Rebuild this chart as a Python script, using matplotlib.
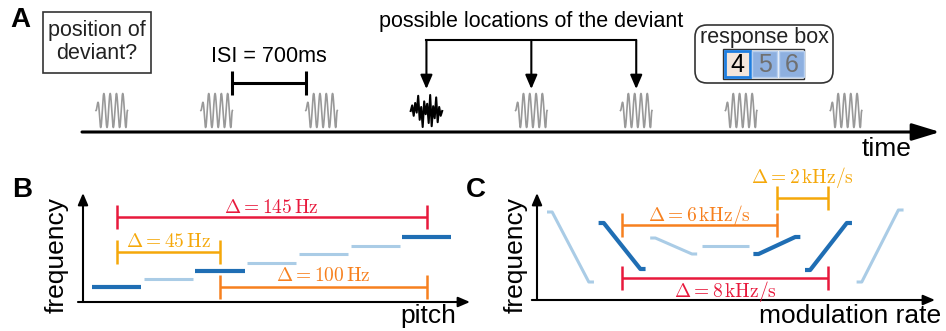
import numpy as np
import matplotlib.pyplot as plt
from matplotlib.patches import Rectangle, FancyBboxPatch

plt.rcParams['font.family'] = ['Liberation Sans', 'DejaVu Sans']
plt.rcParams['mathtext.fontset'] = 'cm'

W, H = 946, 331

# ---- panel A: oddball sequence (times in ms) ----
tone_onsets = [0, 1000, 2000, 3000, 4000, 5000, 6000, 7000]
tone_dur = 300
isi = 700
tone_cycles = 5
deviant_index = 3
possible_positions = [3, 4, 5]
response_keys = ['4', '5', '6']
deviant_wave = [0.0, 0.35, -0.3, 0.5, -0.1, 0.95, -0.55, 0.25, -1.0, 0.6, -0.2,
                0.45, -0.75, 1.0, -0.95, 0.3, -0.45, 0.85, -0.7, 0.25, -0.3, 0.0]

# ---- panel B: pitch steps (Hz) ----
pitch_freqs = [500, 522, 545, 570, 595, 620, 645]
pitch_dark = [0, 2, 6]
pitch_pairs = [(0, 6), (0, 2), (2, 6)]
pitch_labels = [r'$\Delta = 145\,\mathrm{Hz}$', r'$\Delta = 45\,\mathrm{Hz}$',
                r'$\Delta = 100\,\mathrm{Hz}$']

# ---- panel C: FM sweeps (frequency, a.u.) ----
sweep_start = [88, 77, 62, 54, 46, 30, 18]
sweep_end = [18, 31, 46, 54, 63, 77, 90]
sweep_dark = [1, 4, 5]
sweep_pairs = [(1, 5), (1, 4), (4, 5)]
sweep_labels = [r'$\Delta = 8\,\mathrm{kHz/s}$', r'$\Delta = 6\,\mathrm{kHz/s}$',
                r'$\Delta = 2\,\mathrm{kHz/s}$']

DARK = '#1f6eb4'
LIGHT = '#aacce6'
RED = '#e8193c'
ORANGE = '#f7801e'
AMBER = '#f5a80a'

fig = plt.figure(figsize=(W / 100, H / 100), dpi=100)


def px_axes(x0, x1, y_top, y_bot):
    ax = fig.add_axes([x0 / W, 1 - y_bot / H, (x1 - x0) / W, (y_bot - y_top) / H])
    ax.set_axis_off()
    ax.patch.set_alpha(0)
    return ax


def axis_arrow(ax, start, end, lw=1.5, ms=10, hl=0.7, hw=0.3):
    ax.annotate('', xy=end, xytext=start, xycoords='axes fraction',
                arrowprops=dict(arrowstyle=f'-|>,head_length={hl},head_width={hw}',
                                lw=lw, color='k', shrinkA=0, shrinkB=0,
                                mutation_scale=ms))


def bracket(ax, x0, x1, y, color, label, dy):
    ax.plot([x0, x1], [y, y], color=color, lw=1.8, marker='|', ms=17, mew=1.8,
            solid_capstyle='butt', clip_on=False)
    ax.annotate(label, xy=((x0 + x1) / 2, y), xytext=(0, dy), textcoords='offset pixels',
                ha='center', va='center', color=color, fontsize=14)


# overlay in pixel units for labels and boxes
ov = px_axes(0, W, 0, H)
ov.set_xlim(0, W)
ov.set_ylim(H, 0)

for letter, (x, y) in zip('ABC', [(20, 20), (22, 190), (476, 190)]):
    ov.text(x, y, letter, fontsize=20, fontweight='bold', ha='center', va='center')

ov.add_patch(Rectangle((43, 12), 108, 61, fc='white', ec='#333333', lw=1.2))
ov.text(97, 42, 'position of\ndeviant?', ha='center', va='center', fontsize=15.5,
        linespacing=1.15, color='#222222')

ov.add_patch(FancyBboxPatch((695, 25), 138, 58, boxstyle='round,pad=0,rounding_size=12',
                            fc='white', ec='#333333', lw=1.2))
ov.text(764, 37, 'response box', ha='center', va='center', fontsize=15.5, color='#222222')
ov.add_patch(Rectangle((723, 49), 81, 30, fc='none', ec='#333333', lw=1))
for i, key in enumerate(response_keys):
    bx = 725 + 27 * i
    if i == 0:
        ov.add_patch(Rectangle((bx, 51), 25, 26, fc='#f3e6dc', ec='#1e7ee0', lw=2))
        kc = 'black'
    else:
        ov.add_patch(Rectangle((bx, 51), 25, 26, fc='#8eb0e0', ec='#b8d0f0', lw=1))
        kc = '#707070'
    ov.text(bx + 12.5, 65, key, ha='center', va='center', fontsize=18, color=kc)

ov.text(887, 149, 'time', ha='center', va='center', fontsize=19)
ov.text(57, 255, 'frequency', ha='center', va='center', fontsize=19, rotation=90)
ov.text(428, 316, 'pitch', ha='center', va='center', fontsize=19)
ov.text(516, 255, 'frequency', ha='center', va='center', fontsize=19, rotation=90)
ov.text(850, 316, 'modulation rate', ha='center', va='center', fontsize=19)

# ---- panel A ----
axA = px_axes(82, 940, 0, 165)
ms_per_px = 1 / 0.1049
axA.set_xlim((82 - 96) * ms_per_px, (940 - 96) * ms_per_px)
axA.set_ylim(165, 0)

axA.annotate('', xy=(1, 132), xytext=(0, 132), xycoords=('axes fraction', 'data'),
             arrowprops=dict(arrowstyle='-|>,head_length=0.85,head_width=0.26', lw=2.2,
                             color='k', shrinkA=0, shrinkB=0, mutation_scale=20))

for k, on in enumerate(tone_onsets):
    if k == deviant_index:
        t = np.linspace(on, on + tone_dur, len(deviant_wave))
        axA.plot(t, 111 - 16 * np.array(deviant_wave), color='black', lw=1.5)
    else:
        t = np.linspace(on, on + tone_dur, 300)
        ph = (t - on) / tone_dur
        env = np.clip(np.minimum(ph / 0.12, (1 - ph) / 0.04), 0, 1)
        axA.plot(t, 110.5 - 17 * env * np.sin(2 * np.pi * tone_cycles * ph),
                 color='#999999', lw=1.2)

isi_x0 = tone_onsets[1] + tone_dur
isi_x1 = isi_x0 + isi
axA.plot([isi_x0, isi_x1], [83, 83], color='k', lw=2.2, marker='|', ms=17, mew=2.2,
         solid_capstyle='butt')
axA.text((isi_x0 + isi_x1) / 2, 56, f'ISI = {isi}ms', ha='center', va='center', fontsize=15.5)

loc_x = [tone_onsets[p] + tone_dur / 2 for p in possible_positions]
axA.plot([loc_x[0], loc_x[-1]], [40, 40], color='k', lw=1.5, solid_capstyle='projecting')
for x in loc_x:
    axA.annotate('', xy=(x, 89), xytext=(x, 40),
                 arrowprops=dict(arrowstyle='-|>,head_length=0.7,head_width=0.3', lw=1.5,
                                 color='k', shrinkA=0, shrinkB=0, mutation_scale=12))
axA.text((loc_x[0] + loc_x[-1]) / 2, 21, 'possible locations of the deviant',
         ha='center', va='center', fontsize=15.5)

# ---- panel B ----
axB = px_axes(83, 470, 193, 302)
axB.set_xlim((83 - 92) / 51.7, (470 - 92) / 51.7)
axB.set_ylim(500 - 15 * 2.9, 645 + 44 * 2.9)
axis_arrow(axB, (-0.013, 0), (1, 0))
axis_arrow(axB, (0, 0), (0, 1))
seg_w = 0.95
for i, f in enumerate(pitch_freqs):
    dark = i in pitch_dark
    axB.plot([i, i + seg_w], [f, f], color=DARK if dark else LIGHT,
             lw=3.0 if dark else 2.2, solid_capstyle='butt')
b_levels = [703, 601, 500]
b_colors = [RED, AMBER, ORANGE]
b_dy = [9, 10, 11]
for (a, b), lab, lev, c, dy in zip(pitch_pairs, pitch_labels, b_levels, b_colors, b_dy):
    bracket(axB, a + seg_w / 2, b + seg_w / 2, lev, c, lab, dy)

# ---- panel C ----
axC = px_axes(537, 935, 193, 300)
axC.set_xlim((537 - 547) / 51.6, (935 - 547) / 51.6)
axC.set_ylim(0, 107)
axis_arrow(axC, (-0.013, 0), (1, 0))
axis_arrow(axC, (0, 0), (0, 1))
sw = 0.91
shape = np.array([0, 0.11, 0.89, 1.0])
for i, (s, e) in enumerate(zip(sweep_start, sweep_end)):
    dark = i in sweep_dark
    axC.plot(i + shape * sw, [s, s, e, e], color=DARK if dark else LIGHT,
             lw=3.0 if dark else 2.2, solid_capstyle='butt', solid_joinstyle='round')
c_levels = [22, 75, 102]
c_colors = [RED, ORANGE, AMBER]
c_dy = [-13, 10, 21]
for (a, b), lab, lev, c, dy in zip(sweep_pairs, sweep_labels, c_levels, c_colors, c_dy):
    bracket(axC, a + sw / 2, b + sw / 2, lev, c, lab, dy)

fig.savefig('out.png', dpi=100)
